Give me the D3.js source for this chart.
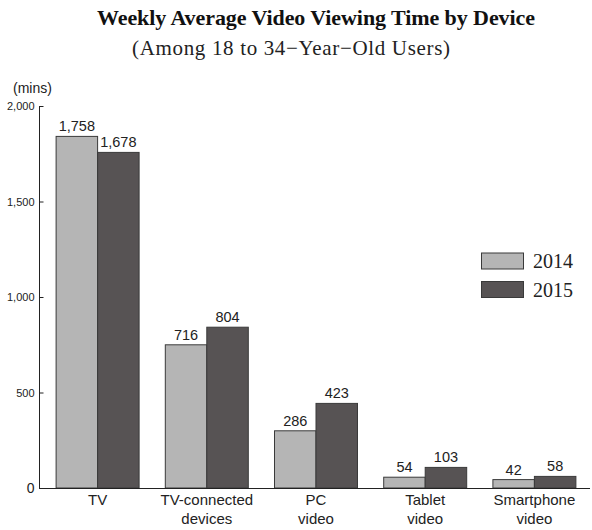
<!DOCTYPE html>
<html lang="en">
<head>
<meta charset="UTF-8">
<title>Weekly Average Video Viewing Time by Device</title>
<style>
    body { margin: 0; background: #fff; }
    .title { font-family: "Liberation Serif", serif; font-weight: bold; font-size: 22px; fill: #111; }
    .subtitle { font-family: "Liberation Serif", serif; font-size: 21px; fill: #222; }
    .axis text { font-family: "Liberation Sans", Arial, sans-serif; font-size: 11px; fill: #222; }
    .axis path, .axis line { stroke: #222; }
    .val { font-family: "Liberation Sans", Arial, sans-serif; font-size: 14.5px; fill: #222; text-anchor: middle; }
    .cat { font-family: "Liberation Sans", Arial, sans-serif; font-size: 15px; fill: #222; text-anchor: middle; }
    .legend text { font-family: "Liberation Serif", serif; font-size: 20px; fill: #222; }
</style>
</head>
<body>
<script src="https://d3js.org/d3.v7.min.js"></script>
<script>

    // data
    var categories = [["TV"], ["TV-connected", "devices"], ["PC", "video"], ["Tablet", "video"], ["Smartphone", "video"]];
    var years = ["2014", "2015"];
    var values2014 = [1758, 716, 286, 54, 42];
    var values2015 = [1678, 804, 423, 103, 58];
    var tickValues = [0, 500, 1000, 1500, 2000];
    var colors = ["#b5b5b5", "#575354"];

    var width = 592, height = 530;
    var baseY = 488, topY = 106;

    var svg = d3.select("body").append("svg")
        .attr("width", width)
        .attr("height", height);

    // the source draws its bars about 5% taller than its axis says,
    // so the bars get their own scale over the same pixel range
    var yAxisScale = d3.scaleLinear().domain([0, 2000]).range([baseY, topY]);
    var y = d3.scaleLinear().domain([0, 1910]).range([baseY, topY]);

    var x0 = d3.scaleBand()
        .domain(d3.range(categories.length))
        .range([43, 589])
        .paddingInner(0.24)
        .paddingOuter(0.12);

    var x1 = d3.scaleBand()
        .domain(years)
        .range([0, x0.bandwidth()]);

    var color = d3.scaleOrdinal().domain(years).range(colors);

    // titles
    svg.append("text").attr("class", "title")
        .attr("x", 97).attr("y", 25)
        .attr("textLength", 438)
        .text("Weekly Average Video Viewing Time by Device");

    svg.append("text").attr("class", "subtitle")
        .attr("x", 132).attr("y", 55)
        .attr("textLength", 318)
        .text("(Among 18 to 34\u2212Year\u2212Old Users)");

    svg.append("text")
        .attr("x", 13).attr("y", 93)
        .style("font-family", "Liberation Sans, Arial, sans-serif")
        .style("font-size", "14px")
        .style("fill", "#222")
        .text("(mins)");

    // y axis, ticks pointing inward
    var yAxis = svg.append("g")
        .attr("class", "axis")
        .attr("transform", "translate(39.5,0)")
        .call(d3.axisRight(yAxisScale)
            .tickValues(tickValues)
            .tickSize(4)
            .tickFormat(d3.format(",")));
    yAxis.select(".domain").remove();
    yAxis.selectAll("text")
        .attr("x", -5)
        .attr("text-anchor", "end");
    yAxis.select(".tick:first-of-type line").remove();
    yAxis.select(".tick:first-of-type text").style("font-size", "14px");

    svg.append("line")
        .attr("x1", 39.5).attr("x2", 39.5)
        .attr("y1", yAxisScale(2000)).attr("y2", baseY)
        .attr("stroke", "#222");

    // bars
    var groups = svg.selectAll(".group")
        .data(categories)
        .enter().append("g")
        .attr("class", "group")
        .attr("transform", function(d, i) { return "translate(" + x0(i) + ",0)"; });

    var bars = groups.selectAll("rect")
        .data(function(d, i) { return [{year: "2014", v: values2014[i]}, {year: "2015", v: values2015[i]}]; })
        .enter();

    bars.append("rect")
        .attr("x", function(d) { return x1(d.year); })
        .attr("y", function(d) { return y(d.v); })
        .attr("width", x1.bandwidth())
        .attr("height", function(d) { return baseY - y(d.v); })
        .attr("fill", function(d) { return color(d.year); })
        .attr("stroke", "#3a3a3a")
        .attr("stroke-width", 1);

    bars.append("text")
        .attr("class", "val")
        .attr("x", function(d) { return x1(d.year) + x1.bandwidth() / 2; })
        .attr("y", function(d) { return y(d.v) - 5; })
        .text(function(d) { return d3.format(",")(d.v); });

    // baseline
    svg.append("line")
        .attr("x1", 39).attr("x2", 590)
        .attr("y1", baseY + 0.5).attr("y2", baseY + 0.5)
        .attr("stroke", "#222");

    // category labels
    groups.each(function(d) {
        var t = d3.select(this).append("text")
            .attr("class", "cat")
            .attr("x", x0.bandwidth() / 2)
            .attr("y", 505);
        d.forEach(function(line, j) {
            t.append("tspan")
                .attr("x", x0.bandwidth() / 2)
                .attr("dy", j === 0 ? 0 : 19)
                .text(line);
        });
    });

    // legend
    var legend = svg.append("g").attr("class", "legend");
    years.forEach(function(yr, i) {
        legend.append("rect")
            .attr("x", 481.5).attr("y", 253 + i * 28.5)
            .attr("width", 42).attr("height", 16)
            .attr("fill", color(yr))
            .attr("stroke", "#3a3a3a");
        legend.append("text")
            .attr("x", 533).attr("y", 268 + i * 28.5)
            .text(yr);
    });

</script>
</body>
</html>
